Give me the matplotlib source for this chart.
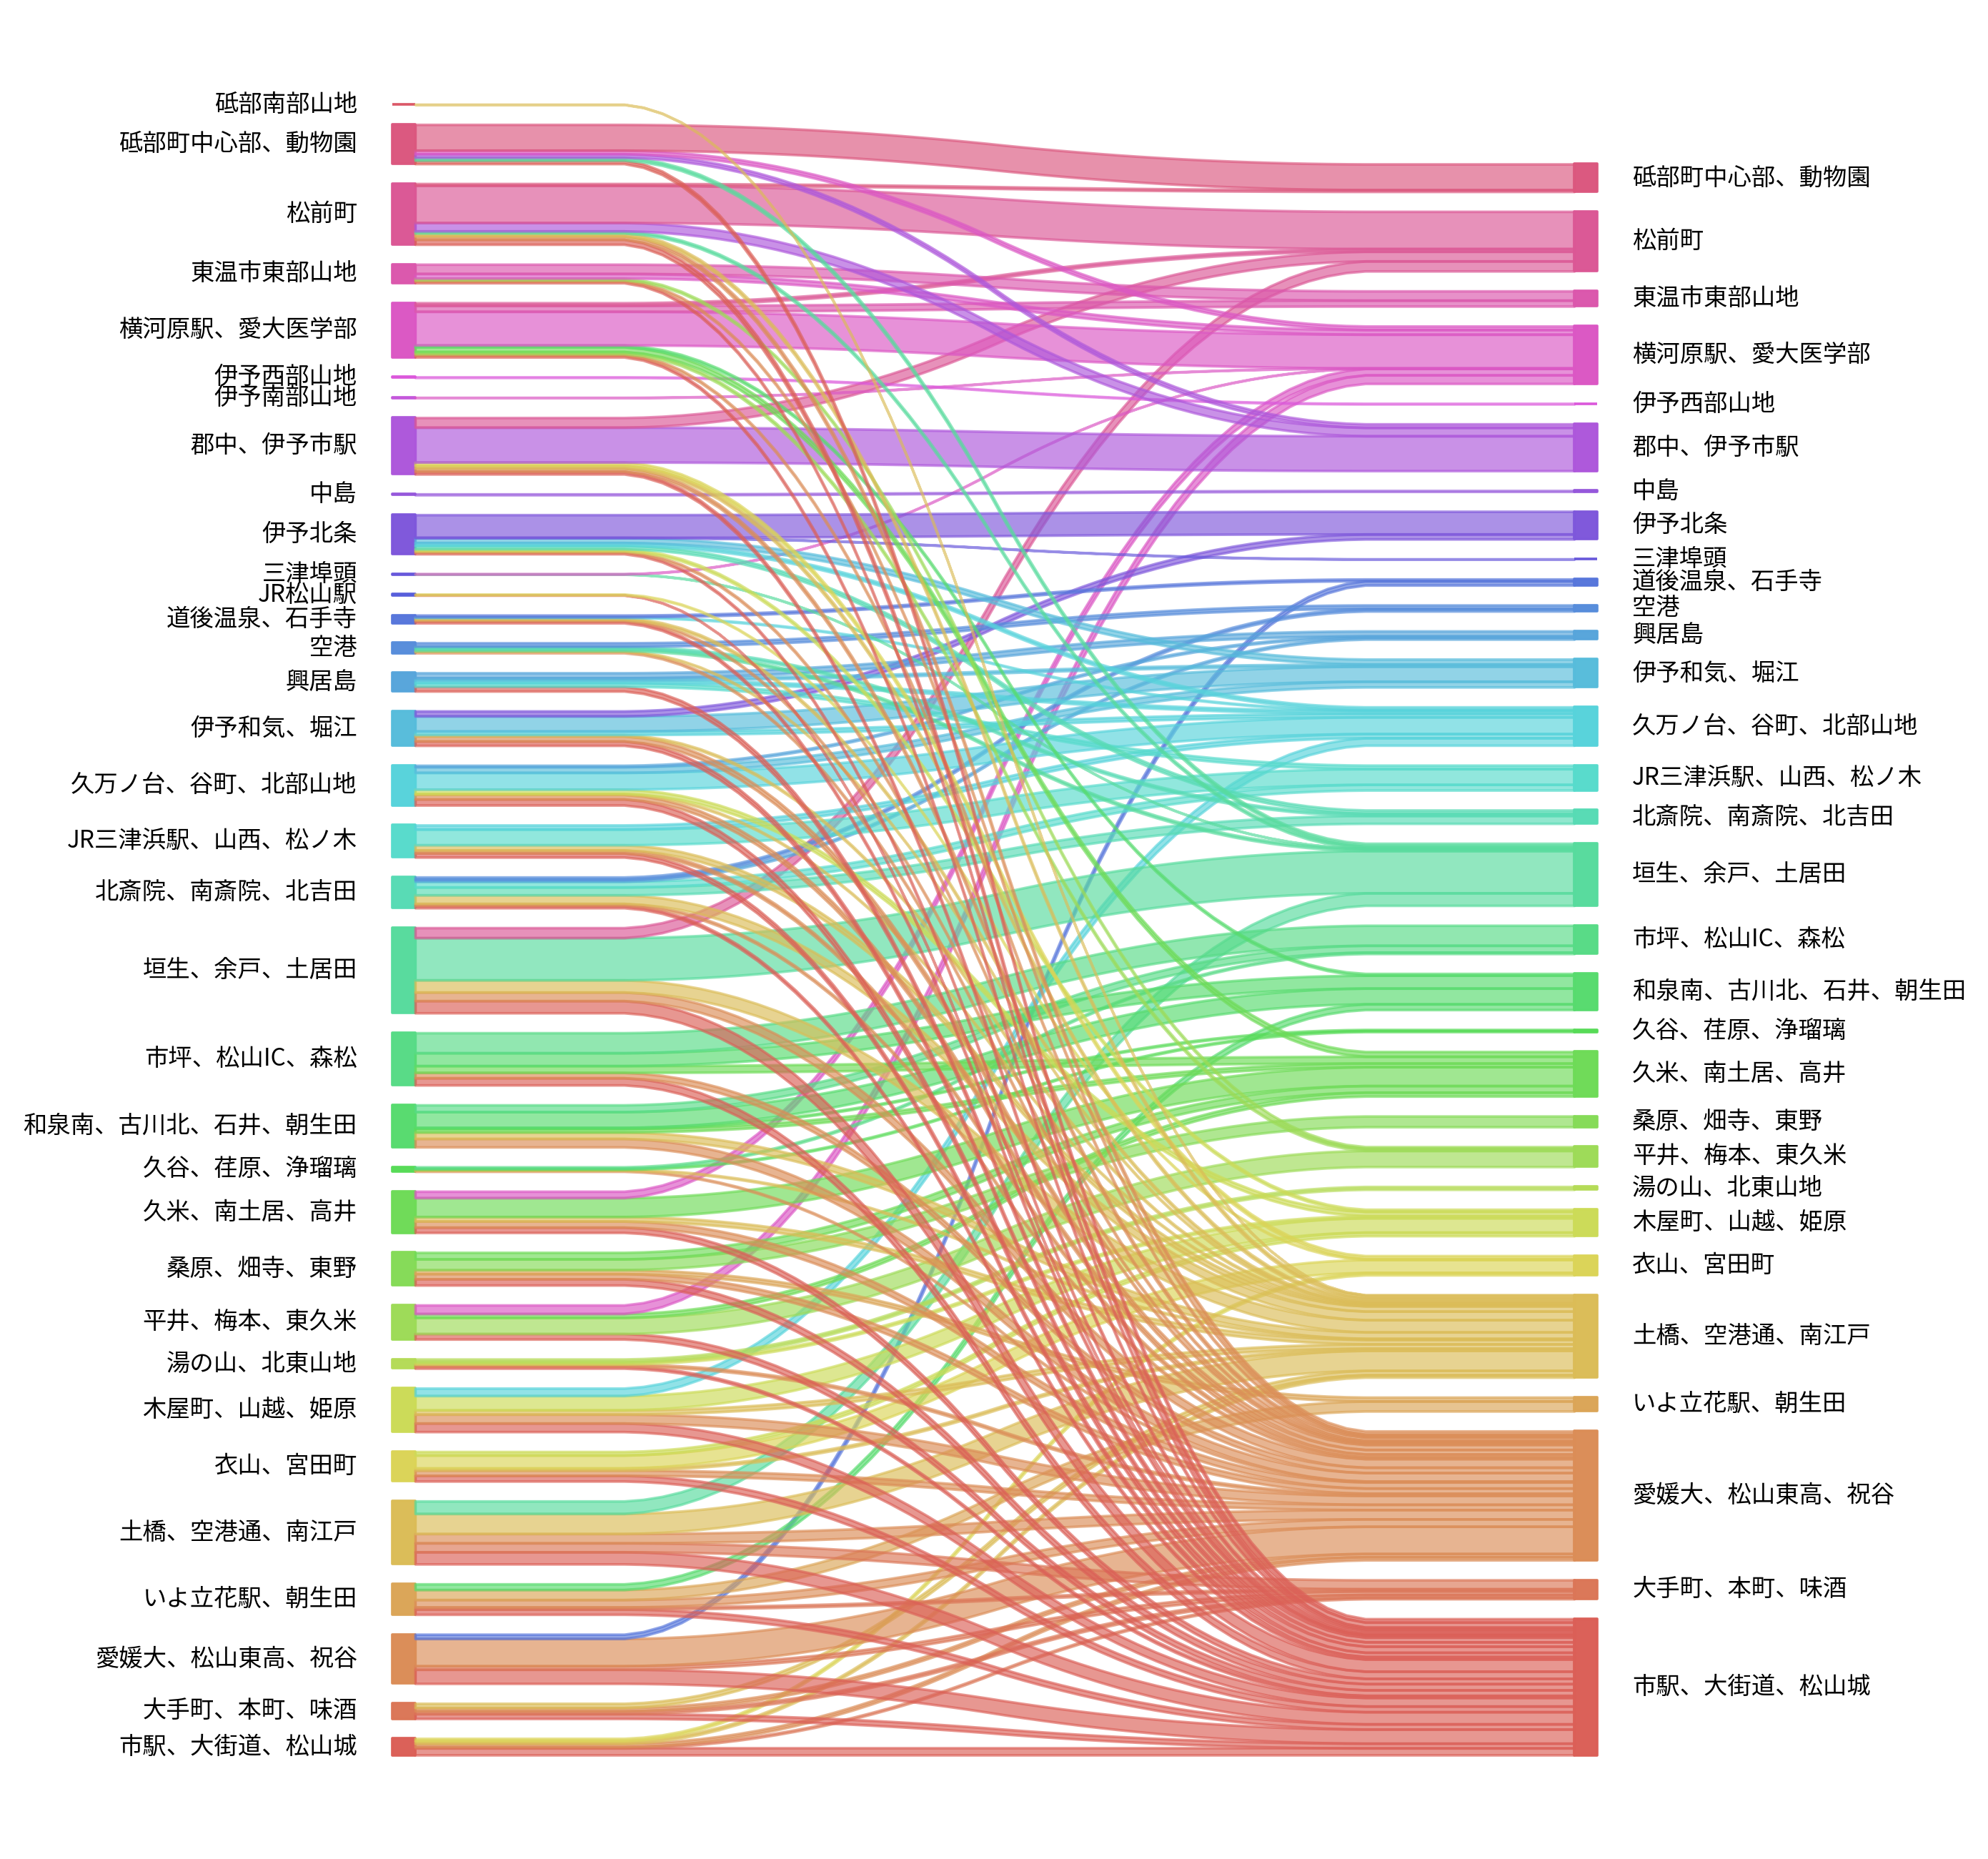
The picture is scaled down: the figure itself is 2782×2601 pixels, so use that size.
import numpy as np
import matplotlib.pyplot as plt
import seaborn as sns

plt.rcParams['font.family'] = ['Noto Sans CJK JP', 'DejaVu Sans']

# areas as they appear on the left, top to bottom
areas = ['砥部南部山地', '砥部町中心部、動物園', '松前町', '東温市東部山地', '横河原駅、愛大医学部',
         '伊予西部山地', '伊予南部山地', '郡中、伊予市駅', '中島', '伊予北条', '三津埠頭', 'JR松山駅',
         '道後温泉、石手寺', '空港', '興居島', '伊予和気、堀江', '久万ノ台、谷町、北部山地',
         'JR三津浜駅、山西、松ノ木', '北斎院、南斎院、北吉田', '垣生、余戸、土居田', '市坪、松山IC、森松',
         '和泉南、古川北、石井、朝生田', '久谷、荏原、浄瑠璃', '久米、南土居、高井', '桑原、畑寺、東野',
         '平井、梅本、東久米', '湯の山、北東山地', '木屋町、山越、姫原', '衣山、宮田町', '土橋、空港通、南江戸',
         'いよ立花駅、朝生田', '愛媛大、松山東高、祝谷', '大手町、本町、味酒', '市駅、大街道、松山城']
# short keys used in the flow lists below
keys = ['砥部南部', '砥部町', '松前', '東温', '横河原', '伊予西部', '伊予南部', '郡中', '中島', '北条',
        '三津埠頭', 'JR松山', '道後', '空港', '興居島', '和気', '久万ノ台', '三津浜', '北斎院', '垣生',
        '市坪', '和泉南', '久谷', '久米', '桑原', '平井', '湯の山', '木屋町', '衣山', '土橋',
        '立花', '愛媛大', '大手町', '市駅']

flow_src = (['砥部南部'] + ['砥部町'] * 5 + ['松前'] * 7 + ['東温'] * 5 + ['横河原'] * 8
            + ['伊予西部'] + ['伊予南部'] + ['郡中'] * 6 + ['中島'] + ['北条'] * 8 + ['三津埠頭'] * 2
            + ['JR松山'] * 2 + ['道後'] * 5 + ['空港'] * 5 + ['興居島'] * 5 + ['和気'] * 6
            + ['久万ノ台'] * 7 + ['三津浜'] * 5 + ['北斎院'] * 7 + ['垣生'] * 5 + ['市坪'] * 5
            + ['和泉南'] * 6 + ['久谷'] * 4 + ['久米'] * 5 + ['桑原'] * 5 + ['平井'] * 4
            + ['湯の山'] * 4 + ['木屋町'] * 5 + ['衣山'] * 5 + ['土橋'] * 5 + ['立花'] * 5
            + ['愛媛大'] * 4 + ['大手町'] * 4 + ['市駅'] * 5)
flow_dst = ['土橋',
            '砥部町', '横河原', '郡中', '垣生', '市駅',
            '砥部町', '松前', '郡中', '垣生', '土橋', '愛媛大', '市駅',
            '東温', '横河原', '平井', '愛媛大', '市駅',
            '松前', '東温', '横河原', '和泉南', '久米', '平井', '愛媛大', '市駅',
            '伊予西部',
            '横河原',
            '松前', '郡中', '衣山', '土橋', '愛媛大', '市駅',
            '中島',
            '北条', '三津埠頭', '和気', '久万ノ台', '北斎院', '木屋町', '愛媛大', '市駅',
            '横河原', '垣生',
            '衣山', '市駅',
            '道後', '久万ノ台', '土橋', '愛媛大', '市駅',
            '空港', '北斎院', '垣生', '土橋', '愛媛大',
            '興居島', '和気', '久万ノ台', '三津浜', '市駅',
            '北条', '和気', '久万ノ台', '土橋', '愛媛大', '市駅',
            '興居島', '和気', '久万ノ台', '木屋町', '土橋', '愛媛大', '市駅',
            '久万ノ台', '三津浜', '土橋', '愛媛大', '市駅',
            '空港', '興居島', '三津浜', '北斎院', '土橋', '愛媛大', '市駅',
            '松前', '垣生', '土橋', '愛媛大', '市駅',
            '市坪', '和泉南', '久米', '愛媛大', '市駅',
            '市坪', '和泉南', '久谷', '久米', '土橋', '愛媛大',
            '市坪', '久谷', '土橋', '愛媛大',
            '横河原', '久米', '土橋', '愛媛大', '市駅',
            '久米', '桑原', '立花', '愛媛大', '市駅',
            '横河原', '久米', '平井', '市駅',
            '湯の山', '木屋町', '愛媛大', '市駅',
            '久万ノ台', '木屋町', '土橋', '愛媛大', '市駅',
            '木屋町', '衣山', '土橋', '愛媛大', '市駅',
            '垣生', '土橋', '愛媛大', '大手町', '市駅',
            '和泉南', '立花', '愛媛大', '大手町', '市駅',
            '道後', '愛媛大', '大手町', '市駅',
            '土橋', '愛媛大', '大手町', '市駅',
            '衣山', '土橋', '愛媛大', '大手町', '市駅']
flow_val = [0.4,
            36, 5, 5, 4, 4.8,
            2.5, 52, 11.7, 3, 4, 4.7, 7,
            13, 6.5, 2.4, 2, 2.1,
            3.8, 8.3, 47, 2.5, 6.7, 3, 2, 2.6,
            0.8,
            0.4,
            13.5, 48.7, 4.5, 3.8, 4.5, 3.9,
            1.2,
            31.7, 0.3, 7, 4, 4.7, 3, 2, 2,
            0.4, 0.3,
            1, 0.5,
            2.5, 1, 2.8, 1.7, 2.9,
            5, 3, 3, 1.1, 2,
            7, 3, 4, 5, 6.6,
            7, 21, 5, 2, 7, 6.1,
            2, 8, 23.4, 6, 1.4, 6.3, 8.5,
            5.8, 21.9, 7.3, 4, 5.9,
            3.5, 2.5, 8, 11, 12, 2.5, 3.5,
            14, 59, 17, 12, 17,
            28, 18, 9.5, 7.5, 10,
            9.5, 22, 1.5, 5, 9, 11.8,
            2, 1.5, 1.5, 1.3,
            9, 26.4, 6.3, 8.5, 7.4,
            9.2, 15, 5.5, 7.3, 8.7,
            12, 5.5, 22.5, 7.7,
            4, 3, 3, 2.9,
            10.4, 20, 6, 12.4, 12,
            5, 18, 3, 7.4, 7.9,
            17.5, 28, 13, 12.5, 17,
            8, 14, 10.3, 3, 7.3,
            6, 38, 5, 19.7,
            6, 4.5, 4, 6.7,
            3.5, 3.5, 4.5, 2, 10.1]

name = dict(zip(keys, areas))
src = [name[k] for k in flow_src]
dst = [name[k] for k in flow_dst]
val = np.array(flow_val, dtype=float)

# sankey layout: first label sits at the bottom
left_labels = areas[::-1]
right_labels = [a for a in left_labels if a in set(dst)]
palette = sns.color_palette('hls', len(left_labels))
colors = {lab: palette[i] for i, lab in enumerate(left_labels)}

total = val.sum()
gap = 0.02 * total

def stack(labels, names):
    pos = {}
    y = 0.0
    for i, lab in enumerate(labels):
        h = sum(v for n, v in zip(names, val) if n == lab)
        if i > 0:
            y += gap
        pos[lab] = [y, y + h]
        y += h
    return pos

lpos = stack(left_labels, src)
rpos = stack(right_labels, dst)
left_top = max(p[1] for p in lpos.values())
xmax = max(p[1] for p in rpos.values()) / 4

W, H = 2782, 2601
fig = plt.figure(figsize=(W / 100, H / 100), dpi=100)
ax = fig.add_axes([0, 0, 1, 1])

lw = 2.66
fs = 24

for lab in left_labels:
    b, t = lpos[lab]
    ax.fill_between([-0.02 * xmax, 0], [b, b], [t, t], color=colors[lab], alpha=0.99, lw=lw)
    ax.text(-0.05 * xmax, (b + t) / 2, lab, ha='right', va='center', fontsize=fs)
for lab in right_labels:
    b, t = rpos[lab]
    ax.fill_between([xmax, 1.02 * xmax], [b, b], [t, t], color=colors[lab], alpha=0.99, lw=lw)
    ax.text(1.05 * xmax, (b + t) / 2, lab, ha='left', va='center', fontsize=fs)

lbot = {k: v[0] for k, v in lpos.items()}
rbot = {k: v[0] for k, v in rpos.items()}
kern = 0.05 * np.ones(20)
for l in left_labels:
    for r in right_labels:
        w = sum(v for s, d, v in zip(src, dst, val) if s == l and d == r)
        if w <= 0:
            continue
        ys_d = np.array(50 * [lbot[l]] + 50 * [rbot[r]])
        ys_d = np.convolve(np.convolve(ys_d, kern, mode='valid'), kern, mode='valid')
        ys_u = np.array(50 * [lbot[l] + w] + 50 * [rbot[r] + w])
        ys_u = np.convolve(np.convolve(ys_u, kern, mode='valid'), kern, mode='valid')
        lbot[l] += w
        rbot[r] += w
        ax.fill_between(np.linspace(0, xmax, len(ys_d)), ys_d, ys_u,
                        alpha=0.65, color=colors[r], lw=lw)

# place the diagram where it sits in the reference image
x0_px, x1_px = 581, 2203
yb_px, yt_px = 2456, 146
sx = (x1_px - x0_px) / xmax
sy = (yb_px - yt_px) / left_top
ax.set_xlim(-x0_px / sx, (W - x0_px) / sx)
ax.set_ylim((yb_px - H) / sy, yb_px / sy)
ax.axis('off')

fig.savefig('out.png', dpi=100)
